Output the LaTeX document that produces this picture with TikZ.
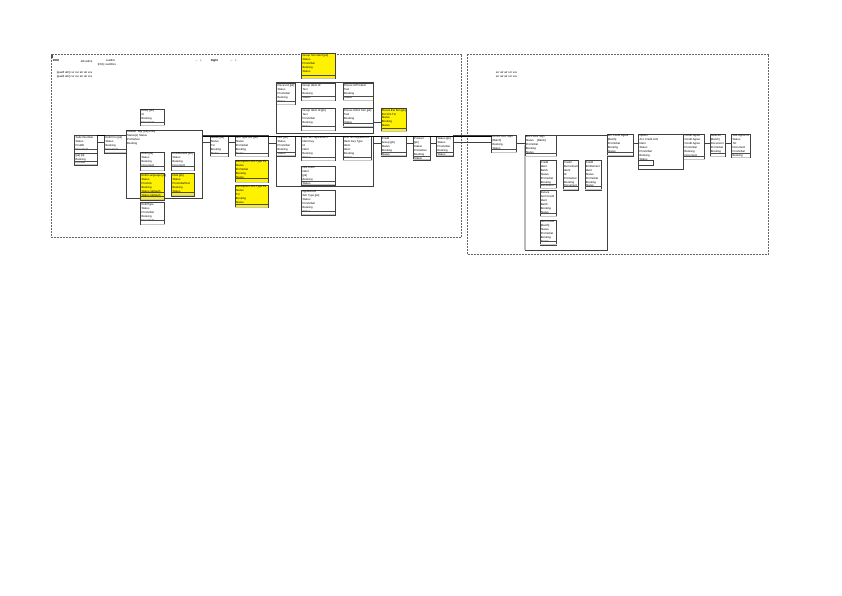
\documentclass[tikz,border=0pt]{standalone}
\usepackage{fontspec}
\setmainfont{Liberation Sans}
\begin{document}
\begin{tikzpicture}[x=1pt,y=-1pt,
  ebx/.style={draw=black!75,line width=0.5pt,fill=white,inner sep=0pt,outer sep=0pt},
  ylw/.style={fill=yellow},
  grp/.style={draw=black!75,line width=0.6pt,fill=white,inner sep=0pt,outer sep=0pt},
  etx/.style={font=\fontsize{2.8}{3.9}\selectfont,inner sep=0.6pt,align=left,text=black},
  sep/.style={draw=black!70,line width=0.4pt},
  conn/.style={draw=black!75,line width=0.5pt},
  mainln/.style={draw=black,line width=1pt},
  frame/.style={draw=black!60,line width=0.7pt,dash pattern=on 2pt off 1pt}]
\useasboundingbox (0,0) rectangle (842,595);
\newcommand{\ebox}[6][]{%
  \node[ebx,#1,minimum width=#4pt,minimum height=#5pt,anchor=north west] (#2) at (#3) {};
  \node[etx,anchor=north west] (#2t) at (#2.north west) {#6};
  \draw[sep] ([yshift=4pt]#2.south west) -- ([yshift=4pt]#2.south east);
  \draw[gray!45,line width=0.6pt] ([yshift=0.5pt]#2.south west) -- ([yshift=0.5pt]#2.south east);
}
\newcommand{\gbox}[5]{%
  \node[grp,minimum width=#3pt,minimum height=#4pt,anchor=north west] (#1) at (#2) {};
  \node[etx,anchor=north west] (#1t) at (#1.north west) {#5};
}
\newcommand{\link}[2]{%
  \draw[conn] (#2.north west -| #1.east) -- (#2.north west);
  \draw[conn] ([yshift=-7pt]#2.north west -| #1.east) -- ([yshift=-7pt]#2.north west);
}
% frames
\node[draw=none,inner sep=0pt,minimum width=410pt,minimum height=183pt,anchor=north west] (F1) at (51,54) {};
\draw[frame] (F1.north west) rectangle (F1.south east);
\node[draw=none,inner sep=0pt,minimum width=301pt,minimum height=200pt,anchor=north west] (F2) at (467,54) {};
\draw[frame] (F2.north west) rectangle (F2.south east);
\node[fill=black!70,inner sep=0pt,minimum width=1.5pt,minimum height=2.5pt,anchor=north west] (corner) at (51,55) {};
% header texts
\node[etx,anchor=west] (h1) at (52,61) {\textbf{PRM}};
\node[etx,anchor=west] (h2) at (80,61) {diCustDe};
\node[etx,anchor=west] (h3) at (105,61) {custIDx};
\node[etx,anchor=west] (h4) at (97,65) {[FK1] custIDxx};
\node[etx,anchor=west] (h5) at (195,61) {--\quad +};
\node[etx,anchor=west] (h6) at (210,61) {\textbf{Right}};
\node[etx,anchor=west] (h7) at (230,61) {--\quad +};
\node[etx,anchor=west] (h8) at (56,73) {[qualif attr] cur cur atr atr xxx};
\node[etx,anchor=west] (h9) at (56,77) {[qualif attr] cur cur atr atr xxx};
\node[etx,anchor=west] (h10) at (495,73) {scr atr atr scr xxx};
\node[etx,anchor=west] (h11) at (495,77) {scr atr atr scr xxx};
% ---------- left frame ----------
\ebox{A}{140.7,109}{24}{16.7}{Entity [pk]\\id\\Booking\\Document}
\ebox{B1}{74.7,135.7}{22.6}{17.6}{Subst Number\\Status\\ProdID\\Document}
\ebox{B2}{74.7,153.3}{22.6}{11.7}{{[pk] [id]}\\Booking\\Pro text}
\ebox{C}{104.7,135.7}{21.6}{17.3}{Entitl Pur [pk]\\Status\\Booking\\Document}
\gbox{D}{126.3,130}{76.4}{68.7}{Header \ Mgr [pk] entity\\Status(x) Status\\ProVerbal\\Booking}
\ebox{E1}{140.7,152}{23.6}{18.3}{Entitl [pk]\\Status\\Booking\\Document}
\ebox{E2}{171.7,152}{22.3}{18.3}{EntitlBenefit [pk]\\Status\\Booking\\Document}
\ebox[ylw]{E3}{140.7,173.7}{23.6}{26.3}{Entitl Language [pk]\\Status\\ProVerb\\Booking\\Status (default)\\Status (default)}
\draw[sep] ([yshift=8pt]E3.south west) -- ([yshift=8pt]E3.south east);
\ebox[ylw]{E4}{171.7,173.7}{22.3}{22.3}{Note [pk]\\Status\\ProVerbalText\\Booking\\Status}
\ebox{F}{140.7,202.7}{24}{21.6}{EntitlType\\Status\\ProVerbal\\Booking\\Document}
\ebox{G}{210,135.7}{18.3}{21}{Status [pk]\\Status\\Txt\\Booking\\Status}
\ebox{H}{235,135.7}{33.3}{21}{Sim Type Ent [pk]\\Status\\ProVerbal\\Booking\\Status}
\ebox[ylw]{H1}{235,160}{33.3}{22.3}{Description Sim Type Pk\\Status\\ProVerbal\\Booking\\Status}
\ebox[ylw]{H2}{235,185}{33.3}{22.7}{Description Sim Type Pk\\Status\\Txt\\Booking\\Status}
\ebox[ylw]{Y1}{301.7,53.7}{33.3}{25}{Group Sim Ident [pk]\\Status\\ProVerbal\\Booking\\Status}
\gbox{J}{276,82.7}{97.3}{51}{}
\ebox{J1}{276.7,83.7}{18.3}{21}{Pieces Id [pk]\\Status\\ProVerbal\\Booking\\Status}
\ebox{J2}{301.7,83.7}{33.3}{16.6}{Group Ident Id\\Text\\Booking\\Status}
\ebox{J3}{343.3,83.7}{30}{16.6}{Pieces Id Product\\Text\\Booking\\Status}
\ebox{J4}{301.7,108.7}{33.3}{21.6}{Group Ident Id [pk]\\Text\\ProVerbal\\Booking\\Status}
\ebox{J5}{343.3,108.7}{30}{18.3}{Pieces Id Ext Sim [pk]\\Text\\Booking\\Status}
\ebox[ylw]{K}{381,108.3}{25.7}{23.4}{Pieces Ext Sim [pk]\\Ext Sim Txt\\Status\\Booking\\Status}
\draw[conn] ([yshift=5pt]J5.south east) -- ([yshift=5pt]J5.south east -| K.west);
\gbox{L}{276,136}{97.3}{50}{}
\ebox{L1}{276.7,136}{18.3}{20}{Unit [pk]\\Status\\ProVerbal\\Booking\\Status}
\ebox{L2}{301.7,136}{33.3}{24.7}{Unit Sim Agreement\\Ident Key\\Id\\Ident\\Booking\\Status}
\ebox{L3}{343.3,136}{28.4}{24.7}{Unit Sim Agreement\\Ident Key Type\\Ident\\Ident\\Booking\\Status}
\ebox{L4}{301.7,166}{33.3}{19}{Unit Entitl\\Ident\\{[pk]}\\Booking\\Status}
\ebox{L5}{301.7,190}{33.3}{25}{Agreement\\Sim Type [pk]\\Status\\ProVerbal\\Booking\\Status}
\ebox{M}{381,136.7}{25}{19.3}{Credit\\Group [pk]\\Status\\Booking\\Status}
\ebox{N}{413.3,136.7}{16.7}{23.3}{Product\\{[pk]}\\Status\\ProVerbal\\Booking\\Status}
\ebox{O}{436.7,136.7}{16.6}{19.3}{Status [pk]\\Status\\ProVerbal\\Booking\\Status}
% ---------- right frame ----------
\ebox{P}{491.7,135}{25}{17.7}{ECMS Rev Sign\\{[Batch]}\\Booking\\Status}
\gbox{R}{525,135}{82}{115}{}
\draw[gray!55,line width=1.4pt] ([yshift=-10pt]R.north west) -- (R.south west);
\ebox{Q}{525,135}{31.7}{21.7}{EnvS Rev Sign\\Status \quad [Batch]\\ProVerbal\\Booking\\Status}
\ebox{R1}{540,160.7}{16.7}{27.6}{Credit\\Ident\\Batch\\Status\\ProVerbal\\Booking\\Document}
\ebox{R2}{563.3,160.7}{15}{29.3}{Credit\\BuContract\\Ident\\Id\\ProVerbal\\Booking\\Document}
\ebox{R3}{585,160.7}{16.7}{29.3}{Credit\\Entitlement\\Ident\\Status\\ProVerbal\\Booking\\Status}
\ebox{R4}{540,190.7}{16.7}{26}{Fixture\\Sort Credit\\Ident\\Batch\\Booking\\Status}
\ebox{R5}{540,220}{16.7}{25}{Sort Credit\\{[Batch]}\\Status\\ProVerbal\\Booking\\Status}
\ebox{S}{607,134}{26}{22}{Ent Credit Agree\\{[Batch]}\\ProVerbal\\Booking\\Status}
\gbox{T}{638.7,134}{45}{35}{Option\\Acc Credit Amt\\Ident\\Status\\ProVerbal\\Booking\\Status}
\node[ebx,minimum width=15pt,minimum height=4.6pt,anchor=north west,fill=none] (Tin) at (638.7,160.7) {};
\ebox{U}{683.7,134}{21}{25.7}{Credit Agree\\Credit Agree\\Credit Agree\\ProVerbal\\Booking\\Document}
\ebox{V}{710,134}{15}{22.7}{Selector\\{[Batch]}\\Document\\ProVerbal\\Booking}
\ebox{W}{731.7,134}{18.3}{23.4}{Sub Agree Id\\Status\\Txt\\Document\\ProVerbal\\Booking}
% ---------- connectors ----------
\link{B1}{C}
\draw[mainln] (B1.north east) -- (C.north west);
\link{D}{G}
\link{G}{H}
\link{H}{L1}
\link{L}{M}
\link{M}{N}
\link{N}{O}
\link{O}{P}
\coordinate (m1) at (202.7,136);
\draw[mainln] (m1) -- (m1 -| P.west);
\draw[conn] ([yshift=-8pt]P.north east) -- ([yshift=-8pt]P.north east -| Q.west);
\draw[conn] ([yshift=-9pt]S.north east) -- ([yshift=-9pt]S.north east -| T.west);
\draw[conn] ([yshift=-9pt]U.north east) -- ([yshift=-9pt]U.north east -| V.west);
\draw[conn] ([yshift=-9pt]V.north east) -- ([yshift=-9pt]V.north east -| W.west);
\end{tikzpicture}
\end{document}
